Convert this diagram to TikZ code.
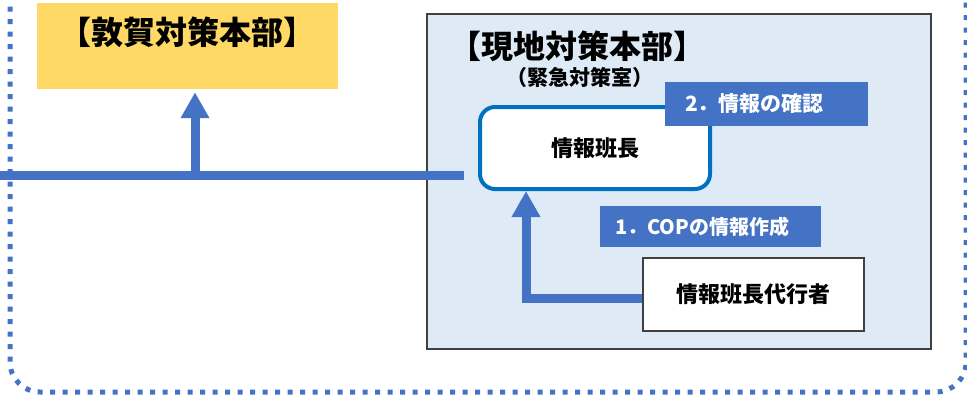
\documentclass[tikz,border=0pt]{standalone}
\usepackage{fontspec}
\setmainfont{Noto Sans CJK JP}
\usetikzlibrary{arrows.meta}
\definecolor{dblue}{HTML}{4472C4}
\definecolor{yel}{HTML}{FFD966}
\definecolor{lblue}{HTML}{DEEBF7}
\definecolor{rblue}{HTML}{0070C0}
\definecolor{dgray}{HTML}{404040}
\tikzset{
  conn/.style={draw=dblue, line width=9pt},
  uptip/.style={-{Triangle[width=27pt,length=26pt]}},
  tagbox/.style={fill=dblue, text=white, font=\bfseries\fontsize{20}{24}\selectfont, align=left, inner ysep=0pt},
  plainbox/.style={draw=dgray, line width=1.5pt, fill=white, font=\bfseries\fontsize{22}{26}\selectfont},
  titletext/.style={font=\bfseries\fontsize{32}{36}\selectfont, inner sep=0pt},
  subtext/.style={font=\bfseries\fontsize{21}{25}\selectfont, inner sep=0pt},
  frame/.style={draw=dblue, line width=5pt, dash pattern=on 5pt off 7.5pt, rounded corners=30pt}
}
\begin{document}
\begin{tikzpicture}[x=1pt,y=-1pt]
\useasboundingbox (0,0) rectangle (967,394);
% outer dotted frame
\draw[frame] (966,-60) -- (966,392) -- (10,392) -- (10,-60);
% Tsuruga HQ
\node[fill=yel, minimum width=301pt, inner xsep=0pt, inner ysep=0pt,
      text height=41pt, text depth=45pt, titletext] (tsu) at (187.5,46) {【敦賀対策本部】};
% on-site HQ area
\node[fill=lblue, draw=dgray, line width=1.5pt, minimum width=504pt, minimum height=335pt] (genchi) at (679,181.5) {};
\node[titletext] (t1) at (577,46) {【現地対策本部】};
\node[subtext] (t2) at (580,78) {（緊急対策室）};
% boxes
\node[draw=rblue, line width=4pt, rounded corners=15pt, fill=white, minimum width=230pt, minimum height=82pt,
      font=\bfseries\fontsize{22}{26}\selectfont] (cho) at (595,148) {情報班長};
\node[plainbox, minimum width=221pt, minimum height=73pt] (dai) at (753.5,294.5) {情報班長代行者};
% connectors
\coordinate (L) at (0,175);
\coordinate (J) at (195,175);
\draw[conn] (L) -- ([xshift=-14pt]L -| cho.west);
\draw[conn, uptip, shorten >=3pt] (J) -- (J |- tsu.south);
\coordinate (E) at (526,298);
\draw[conn, uptip] (E -| dai.west) -- (E) -- (E |- cho.south);
% step labels
\node[tagbox, inner xsep=20pt, text width=163pt, minimum height=44pt, font=\bfseries\fontsize{21}{24}\selectfont] (s2) at (766.5,104) {2．情報の確認};
\node[tagbox, inner xsep=15pt, text width=191pt, minimum height=41pt] (s1) at (710.5,226.5) {1．COPの情報作成};
\end{tikzpicture}
\end{document}
